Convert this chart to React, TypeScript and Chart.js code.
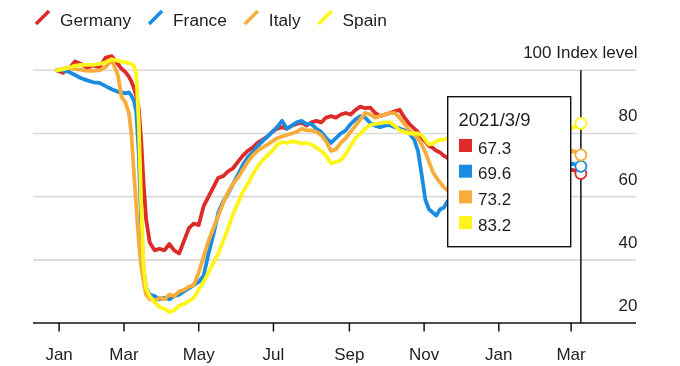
import React, { useEffect, useRef } from 'react';
import { Chart, registerables } from 'chart.js';

Chart.register(...registerables);

const seriesNames = ['Germany', 'France', 'Italy', 'Spain'];
const seriesColors = ['#dc2b28', '#1b8de0', '#f8ac3a', '#fff51a'];

// days since 1 Jan 2020
const days = [
  5, 10, 15, 20, 25, 30, 35, 40, 45, 50,
  55, 58, 61, 64, 66, 68, 70, 72, 74, 76,
  78, 81, 85, 89, 93, 97, 101, 105, 109, 113,
  117, 121, 125, 129, 133, 137, 141, 145, 149, 153,
  157, 161, 165, 169, 173, 177, 181, 185, 189, 193,
  197, 201, 205, 209, 213, 217, 221, 225, 229, 233,
  237, 241, 245, 249, 253, 257, 261, 265, 269, 273,
  277, 281, 285, 289, 293, 297, 300, 303, 306, 309,
  312, 315, 318, 321, 324, 330, 340, 350, 360, 370,
  380, 390, 400, 410, 420, 426, 430, 433,
];

const germany = [
  100, 99.2, 100.5, 102.8, 102, 100.8, 101.5, 101, 104, 104.5,
  102, 100.5, 99.5, 98, 96.5, 94.5, 92, 88, 78, 64,
  53, 45.5, 43, 43.5, 43, 45, 43, 42, 46, 50,
  51.5, 51, 57, 60, 63, 66, 66.5, 68, 69, 71,
  73, 74.5, 75.5, 77, 78, 79, 80.5, 81.5, 82, 81.5,
  82.5, 83, 83.5, 82.5, 83.5, 84, 83.5, 85, 85.5, 85,
  86, 86.5, 86, 87.5, 88.5, 88, 88.2, 86.5, 85.5, 86,
  86.5, 87, 87.5, 85, 83, 81.5, 80.5, 78.5, 77.5, 76,
  75.5, 74.5, 74, 73, 72.3, 71, 70, 69, 66, 64,
  66, 67, 66.5, 67.5, 68, 68.5, 68, 67.3,
];

const france = [
  100, 100, 99.5, 98.5, 97.5, 96.8, 96.2, 96, 95, 94,
  93.2, 93, 92.7, 93, 92, 90.5, 87, 74, 52, 37,
  31, 29, 28.5, 27.5, 28, 27.5, 28.5, 29, 30, 31,
  32, 33, 35, 42, 48, 55, 58.5, 61, 64, 67,
  70, 72.5, 74, 76, 77.5, 79, 80.5, 82, 84, 81.5,
  82.5, 83.5, 84, 83, 83, 81.5, 80.5, 78.5, 77, 78.5,
  80, 81, 83, 84.5, 85.5, 85, 83.3, 82.5, 82, 82.5,
  82.7, 82, 81.6, 81, 80, 78, 74.5, 67, 59, 56,
  55, 54, 56, 56.5, 58.5, 60, 62, 63, 64, 62,
  64, 66, 67, 68, 69, 70.5, 70, 69.6,
];

const italy = [
  100, 100.5, 100.8, 100.4, 100.2, 99.8, 99.8, 100, 101, 103.3,
  98.5, 91.5, 90, 86.5, 80, 68, 57, 46, 38, 33,
  29, 27.5, 27, 28, 27.5, 29, 28.5, 30, 30.5, 31.5,
  32, 36, 41, 46, 50, 54, 58, 61.5, 64, 66,
  68.5, 71, 73, 74.5, 75.5, 76.5, 77.5, 78.5, 79, 79.5,
  80, 80.5, 81.5, 81, 81, 80.5, 79.5, 77.5, 74.5, 75,
  77, 78.5, 80.5, 82.5, 84.5, 86.5, 86, 85, 85.5, 86,
  86.4, 86.5, 85, 83, 81, 79.5, 78.5, 76.5, 74, 71,
  68, 66, 64.5, 63, 62, 60, 61, 63, 64, 66,
  67, 69, 70, 71, 73, 74.5, 74, 73.2,
];

const spain = [
  100, 100.3, 100.8, 101.5, 101.7, 101.7, 101.7, 102, 102.5, 103.5,
  103, 102.7, 102.5, 102.3, 102, 101.5, 99, 84, 58, 38,
  31, 28.5, 26.5, 25, 24.5, 23.5, 24, 25.5, 26, 27,
  28, 30.5, 33, 36, 39, 42, 46, 50, 54.5, 58,
  61.5, 64, 67, 69.5, 71.5, 73, 74.5, 76.5, 77.3, 77,
  77.5, 77.3, 76.8, 77, 76.5, 75.5, 74.5, 73, 70.5, 71,
  71.5, 73.5, 76, 78.5, 80, 81.5, 82.7, 83, 83.3, 83.5,
  83.6, 82.5, 81, 80.5, 80, 80, 80, 79.5, 78, 76.5,
  76.8, 77.5, 78, 78, 78.5, 79, 77, 75, 73, 74,
  76, 78, 79, 80, 81, 81.7, 82.5, 83.2,
];

const seriesValues = [germany, france, italy, spain];

const xTickDays = [7, 60, 121, 182, 244, 305, 366, 425];
const xTickLabels = ['Jan', 'Mar', 'May', 'Jul', 'Sep', 'Nov', 'Jan', 'Mar'];
const yTickValues = [20, 40, 60, 80, 100];
const yTickLabels = ['20', '40', '60', '80', '100 Index level'];
const markerDay = 433;
const markerLabel = '2021/3/9';

const FONT = "'Liberation Sans', Arial, Helvetica, sans-serif";
const TEXT = '#1e1e1e';

const decorPlugin = {
  id: 'decor',
  beforeDatasetsDraw(chart: any) {
    const { ctx, chartArea } = chart;
    const xs = chart.scales.x;
    const ys = chart.scales.y;
    ctx.save();
    // grid lines
    ctx.strokeStyle = '#d9d9d9';
    ctx.lineWidth = 1.6;
    yTickValues.forEach((v) => {
      if (v === yTickValues[0]) return;
      const py = ys.getPixelForValue(v);
      ctx.beginPath();
      ctx.moveTo(chartArea.left, py);
      ctx.lineTo(chartArea.right, py);
      ctx.stroke();
    });
    // axis line
    const base = ys.getPixelForValue(yTickValues[0]);
    ctx.strokeStyle = '#111';
    ctx.lineWidth = 1.5;
    ctx.beginPath();
    ctx.moveTo(chartArea.left, base);
    ctx.lineTo(chartArea.right, base);
    ctx.stroke();
    // x ticks + labels
    ctx.fillStyle = TEXT;
    ctx.font = `17px ${FONT}`;
    ctx.textAlign = 'center';
    ctx.textBaseline = 'alphabetic';
    xTickDays.forEach((d, i) => {
      const px = xs.getPixelForValue(d);
      ctx.beginPath();
      ctx.moveTo(px, base);
      ctx.lineTo(px, base + 8.5);
      ctx.stroke();
      ctx.fillText(xTickLabels[i], px, base + 36.5);
    });
    // y labels (right side, above grid lines)
    ctx.textAlign = 'right';
    yTickValues.forEach((v, i) => {
      const py = ys.getPixelForValue(v);
      ctx.fillText(yTickLabels[i], chartArea.right + 1.5, py - 12);
    });
    // marker line
    const mx = xs.getPixelForValue(markerDay);
    ctx.beginPath();
    ctx.moveTo(mx, ys.getPixelForValue(yTickValues[yTickValues.length - 1]));
    ctx.lineTo(mx, base);
    ctx.stroke();
    ctx.restore();
  },
  afterDatasetsDraw(chart: any) {
    const { ctx } = chart;
    ctx.save();
    // info box
    const bx = 447.7, by = 96.7, bw = 123, bh = 150;
    ctx.fillStyle = '#ffffff';
    ctx.fillRect(bx, by, bw, bh);
    ctx.strokeStyle = '#111';
    ctx.lineWidth = 1.4;
    ctx.strokeRect(bx, by, bw, bh);
    ctx.fillStyle = TEXT;
    ctx.textAlign = 'left';
    ctx.textBaseline = 'alphabetic';
    ctx.font = `18.5px ${FONT}`;
    ctx.fillText(markerLabel, 458.5, 125.5);
    ctx.font = `17px ${FONT}`;
    seriesValues.forEach((vals, i) => {
      const baseY = 153.5 + i * 25.7;
      ctx.fillStyle = seriesColors[i];
      ctx.fillRect(459, baseY - 14.5, 13, 13);
      ctx.fillStyle = TEXT;
      ctx.fillText(vals[vals.length - 1].toFixed(1), 478, baseY);
    });
    // legend
    ctx.font = `17.3px ${FONT}`;
    let lx = 35;
    seriesNames.forEach((name, i) => {
      ctx.strokeStyle = seriesColors[i];
      ctx.lineWidth = 3.5;
      ctx.lineCap = 'butt';
      ctx.beginPath();
      ctx.moveTo(lx + 1, 24);
      ctx.lineTo(lx + 14, 11);
      ctx.stroke();
      ctx.fillStyle = TEXT;
      ctx.fillText(name, lx + 25, 25.5);
      lx += 25 + ctx.measureText(name).width + 17;
    });
    ctx.restore();
  },
};

export default function App() {
  const canvasRef = useRef<HTMLCanvasElement | null>(null);

  useEffect(() => {
    const canvas = canvasRef.current;
    if (!canvas) return;
    const orders = [4, 3, 2, 1];
    const chart = new Chart(canvas, {
      type: 'line',
      data: {
        datasets: seriesNames.map((name, i) => ({
          label: name,
          data: days.map((d, j) => ({ x: d, y: seriesValues[i][j] })),
          borderColor: seriesColors[i],
          backgroundColor: seriesColors[i],
          borderWidth: 3.8,
          borderJoinStyle: 'round' as const,
          borderCapStyle: 'round' as const,
          tension: 0,
          order: orders[i],
          clip: false as any,
          pointRadius: (c: any) => (c.dataIndex === days.length - 1 ? 5.5 : 0),
          pointBackgroundColor: '#ffffff',
          pointBorderColor: seriesColors[i],
          pointBorderWidth: 1.8,
          pointHoverRadius: 0,
        })),
      },
      options: {
        responsive: false,
        maintainAspectRatio: false,
        animation: false,
        events: [],
        layout: { padding: { left: 33, right: 44, top: 51.35, bottom: 43 } },
        plugins: { legend: { display: false }, tooltip: { enabled: false }, title: { display: false } },
        scales: {
          x: { type: 'linear', min: -14.3, max: 478, display: false },
          y: { type: 'linear', min: 20, max: 106, display: false },
        },
      },
      plugins: [decorPlugin],
    });
    return () => chart.destroy();
  }, []);

  return (
    <div style={{ position: 'fixed', left: 0, top: 0, width: 680, height: 366, background: '#fff' }}>
      <canvas ref={canvasRef} width={680} height={366} style={{ display: 'block', width: 680, height: 366 }} />
    </div>
  );
}
